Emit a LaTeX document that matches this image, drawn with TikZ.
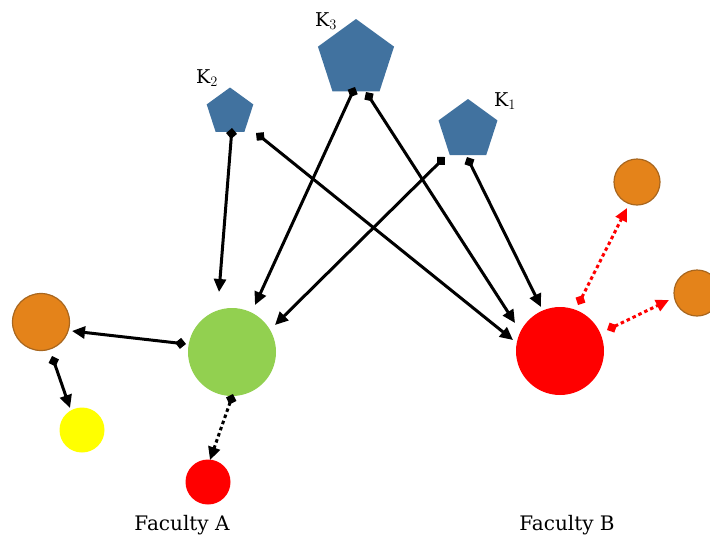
\documentclass[tikz,border=0pt]{standalone}
\usepackage{fontspec}
\setmainfont{DejaVu Serif}
\usetikzlibrary{shapes.geometric,arrows.meta}
\definecolor{kblue}{HTML}{41729F}
\definecolor{fgreen}{HTML}{92D050}
\definecolor{forange}{HTML}{E4831A}
\definecolor{fbrown}{HTML}{A8661E}
\definecolor{fred}{HTML}{FF0000}
\definecolor{fyellow}{HTML}{FFFF00}
\begin{document}
\begin{tikzpicture}[x=1pt,y=-1pt,
  kpent/.style={regular polygon,regular polygon sides=5,fill=kblue,inner sep=0pt,draw=none},
  dot/.style={circle,inner sep=0pt,draw=none},
  orangedot/.style={circle,inner sep=0pt,fill=forange,draw=fbrown,line width=1.2pt},
  link/.style={line width=3pt,{Diamond[length=11pt,width=11pt]}-{Triangle[length=13pt,width=12pt]}},
  dotlink/.style={link,dash pattern=on 3.5pt off 3pt},
  lbl/.style={font=\fontsize{19}{21}\selectfont,inner sep=0pt},
  flbl/.style={font=\fontsize{20}{22}\selectfont,inner sep=0pt}
]
\useasboundingbox (0,0) rectangle (710,539);
\clip (0,0) rectangle (710,539);
% knowledge pentagons
\node[kpent,minimum size=80pt] (k3) at (356,59) {};
\node[kpent,minimum size=49pt] (k2) at (230,112) {};
\node[kpent,minimum size=62pt] (k1) at (468,130) {};
\node[lbl] (k3l) at (326,21) {K$_3$};
\node[lbl] (k2l) at (207,78) {K$_2$};
\node[lbl] (k1l) at (505,101) {K$_1$};
% faculty nodes
\node[dot,fill=fgreen,minimum size=88pt] (green) at (232,352) {};
\node[orangedot,minimum size=57pt] (oL) at (41,322) {};
\node[dot,fill=fyellow,minimum size=45pt] (yel) at (82,430) {};
\node[dot,fill=fred,minimum size=45pt] (sred) at (208,482) {};
\node[dot,fill=fred,minimum size=88pt] (bred) at (560,351) {};
\node[orangedot,minimum size=46pt] (oTR) at (637,182) {};
\node[orangedot,minimum size=46pt] (oR) at (697,293) {};
\node[flbl] (fa) at (182,525) {Faculty A};
\node[flbl] (fb) at (567,525) {Faculty B};
% connectors
\draw[link] ([shift={(2,16)}]k2.center) -- ([shift={(-13,-60)}]green.center);
\draw[link] ([shift={(26,21)}]k2.center) -- ([shift={(-47,-11)}]bred.center);
\draw[link] ([shift={(-1,28)}]k3.center) -- ([shift={(23,-47)}]green.center);
\draw[link] ([shift={(10,33)}]k3.center) -- ([shift={(-45,-28)}]bred.center);
\draw[link] ([shift={(-23,27)}]k1.center) -- ([shift={(43,-27)}]green.center);
\draw[link] ([shift={(-1,27)}]k1.center) -- ([shift={(-19,-44)}]bred.center);
\draw[link] ([shift={(-46,-8)}]green.center) -- ([shift={(31,9)}]oL.center);
\draw[link] ([shift={(11,34)}]oL.center) -- ([shift={(-12,-22)}]yel.center);
\draw[dotlink] ([shift={(1,42)}]green.center) -- ([shift={(2,-22)}]sred.center);
\draw[dotlink,fred] ([shift={(18,-46)}]bred.center) -- ([shift={(-10,26)}]oTR.center);
\draw[dotlink,fred] ([shift={(47,-21)}]bred.center) -- ([shift={(-28,7)}]oR.center);
\end{tikzpicture}
\end{document}
